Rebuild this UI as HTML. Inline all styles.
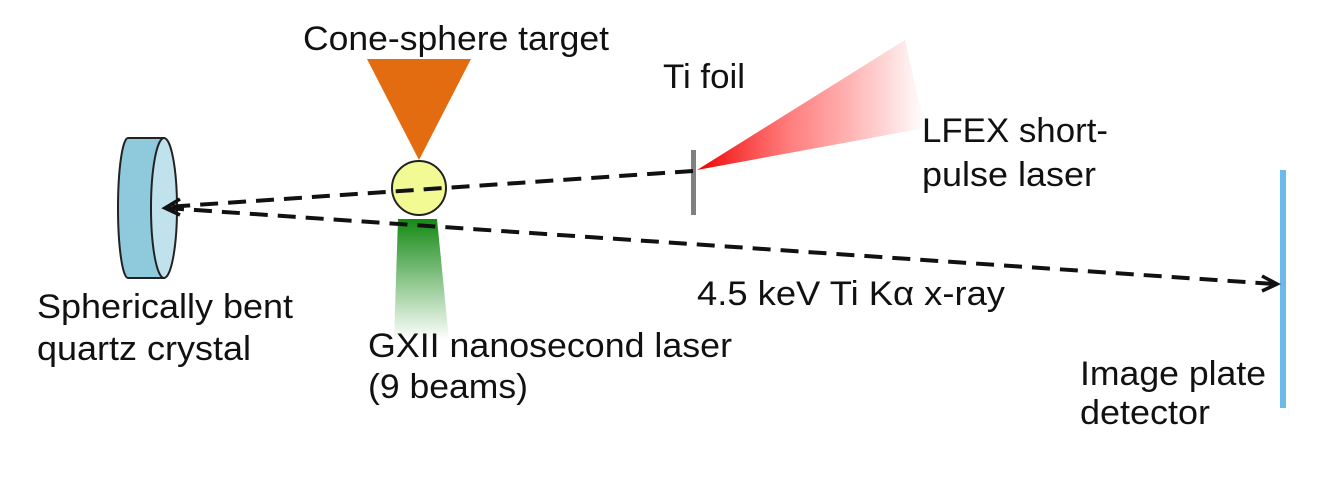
<!DOCTYPE html>
<html><head><meta charset="utf-8"><style>
html,body{margin:0;padding:0;background:#fff;}
svg{display:block;}
text{font-family:"Liberation Sans",Arial,sans-serif;font-size:34px;fill:#111;}
</style></head><body>
<svg width="1330" height="478" viewBox="0 0 1330 478">
<defs>
<linearGradient id="gGreen" x1="0" y1="0" x2="0" y2="1">
<stop offset="0" stop-color="#148a14"/><stop offset="1" stop-color="#148a14" stop-opacity="0"/>
</linearGradient>
<linearGradient id="gRed" x1="0" y1="0" x2="1" y2="0">
<stop offset="0" stop-color="#ee0000"/><stop offset="0.4" stop-color="#f44" stop-opacity="0.7"/><stop offset="1" stop-color="#ff3030" stop-opacity="0"/>
</linearGradient>
</defs>
<g>
<path d="M128,138 L164,138 L164,278 L128,278 A10,70 0 0 1 128,138 Z" fill="#8ec9dc" stroke="#222" stroke-width="2"/>
<ellipse cx="164" cy="208" rx="13" ry="70" fill="#bfe2ec" stroke="#222" stroke-width="2"/>
</g>
<polygon points="367,59 471,59 419,160" fill="#e36c10"/>
<polygon points="398,219 437,219 449,340 394,340" fill="url(#gGreen)"/>
<circle cx="419" cy="188" r="27" fill="#f2fa94" stroke="#222" stroke-width="2"/>
<polygon points="697,170 905,40 925,128" fill="url(#gRed)"/>
<rect x="691" y="150" width="5" height="65" fill="#808080"/>
<rect x="1280" y="170" width="6" height="238" fill="#6db9ec"/>
<line x1="693" y1="171" x2="166" y2="207" stroke="#111" stroke-width="4" stroke-dasharray="18,10"/>
<line x1="166" y1="208" x2="1274" y2="284" stroke="#111" stroke-width="4" stroke-dasharray="18,10"/>
<polyline points="180,199 165,208 180,215" fill="none" stroke="#111" stroke-width="3.5"/>
<polyline points="1262,276 1277,284 1262,291" fill="none" stroke="#111" stroke-width="3.5"/>
<text x="303" y="50" textLength="306" lengthAdjust="spacingAndGlyphs">Cone-sphere target</text>
<text x="663" y="88" textLength="82" lengthAdjust="spacingAndGlyphs">Ti foil</text>
<text x="922" y="142" textLength="186" lengthAdjust="spacingAndGlyphs">LFEX short-</text>
<text x="922" y="186" textLength="174" lengthAdjust="spacingAndGlyphs">pulse laser</text>
<text x="697" y="305" textLength="308" lengthAdjust="spacingAndGlyphs">4.5 keV Ti Kα x-ray</text>
<text x="37" y="318" textLength="256" lengthAdjust="spacingAndGlyphs">Spherically bent</text>
<text x="37" y="360" textLength="214" lengthAdjust="spacingAndGlyphs">quartz crystal</text>
<text x="368" y="357" textLength="364" lengthAdjust="spacingAndGlyphs">GXII nanosecond laser</text>
<text x="368" y="398" textLength="160" lengthAdjust="spacingAndGlyphs">(9 beams)</text>
<text x="1080" y="385" textLength="186" lengthAdjust="spacingAndGlyphs">Image plate</text>
<text x="1080" y="424" textLength="130" lengthAdjust="spacingAndGlyphs">detector</text>
</svg>
</body></html>
